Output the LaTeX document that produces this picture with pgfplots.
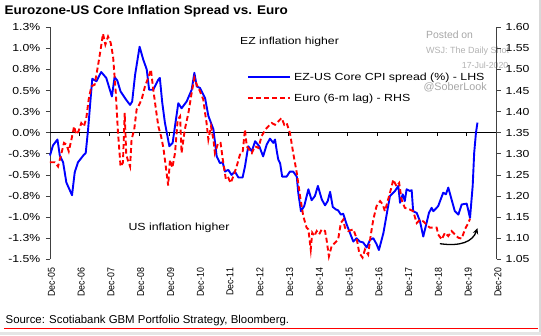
\documentclass[border=0pt]{standalone}
\usepackage{pgfplots}
\pgfplotsset{compat=1.18}
\usetikzlibrary{arrows.meta}
\usepackage{fontspec}
\setmainfont{Liberation Sans}[FakeStretch=1.2]
\newfontfamily\plainfont{Liberation Sans}
\newfontfamily\titlefont{Liberation Sans}[FakeStretch=1.08]
\newfontfamily\rotfont{Liberation Sans}[FakeStretch=0.88]
\begin{document}
\begin{tikzpicture}
\useasboundingbox (0,0) rectangle (541pt,335pt);
\fill[black!15] (538.5pt,0pt) rectangle (541pt,335pt);
\fill[black!10] (0pt,0pt) rectangle (541pt,3.5pt);
% watermark
\node[anchor=base west, inner sep=0pt, text=black!35, font=\plainfont\fontsize{10.4}{10.4}\selectfont] at (426pt,296pt) {Posted on};
\node[anchor=base west, inner sep=0pt, text=black!30, font=\plainfont\fontsize{9}{9}\selectfont] at (426pt,281.7pt) {WSJ: The Daily Shot};
\node[anchor=base west, inner sep=0pt, text=black!30, font=\plainfont\fontsize{8.8}{8.8}\selectfont] at (461.7pt,266.7pt) {17-Jul-2020};
\node[anchor=base west, inner sep=0pt, text=black!35, font=\plainfont\fontsize{10.8}{10.8}\selectfont] at (423.3pt,244.3pt) {@SoberLook};
\begin{axis}[
  at={(50pt,75.7pt)}, anchor=south west,
  scale only axis, width=446.5pt, height=232pt,
  xmin=0, xmax=15, ymin=-1.5, ymax=1.25,
  axis y line*=left, axis x line*=bottom,
  x axis line style={draw=none},
  xtick={0,1,2,3,4,5,6,7,8,9,10,11,12,13,14,15},
  xticklabels={Dec-05,Dec-06,Dec-07,Dec-08,Dec-09,Dec-10,Dec-11,Dec-12,Dec-13,Dec-14,Dec-15,Dec-16,Dec-17,Dec-18,Dec-19,Dec-20},
  x tick style={draw=none},
  major x tick style={draw=none},
  xmajorgrids=false,
  xticklabel style={yshift=-4.5pt, xshift=1.5pt, rotate=90, anchor=east, inner sep=0pt, font=\rotfont\fontsize{10}{10}\selectfont},
  ytick={-1.5,-1.25,-1,-0.75,-0.5,-0.25,0,0.25,0.5,0.75,1,1.25},
  yticklabels={-1.5\%,-1.3\%,-1.0\%,-0.8\%,-0.5\%,-0.3\%,0.0\%,0.3\%,0.5\%,0.8\%,1.0\%,1.3\%},
  yticklabel style={anchor=east, inner sep=0pt, xshift=-5.5pt, font=\fontsize{10.2}{10.2}\selectfont},
  tick align=outside, major tick length=4pt,
  y axis line style={black!75, line width=0.8pt},
  y tick style={black!75, line width=0.8pt},
  /pgf/number format/assume math mode=true,
  clip=false,
]
\draw[black, line width=0.8pt] (axis cs:0,0) -- (axis cs:15,0);
\pgfplotsinvokeforeach{1,...,14}{\draw[black, line width=0.8pt] (axis cs:#1,0) -- ([yshift=-3.5pt]axis cs:#1,0);}
\addplot[blue, line width=1.9pt, line join=round] coordinates {
(0.00,-0.27) (0.10,-0.15) (0.25,-0.08) (0.33,-0.27) (0.44,-0.35) (0.55,-0.59) (0.74,-0.74) (0.83,-0.47) (0.94,-0.35) (1.14,-0.26) (1.20,-0.24) (1.28,0.04) (1.37,0.43) (1.42,0.64) (1.56,0.61) (1.72,0.72) (1.89,0.65) (2.08,0.43) (2.17,0.66) (2.26,0.62) (2.37,0.49) (2.56,0.39) (2.69,0.33) (2.76,0.37) (2.86,0.69) (3.01,1.02) (3.13,0.87) (3.25,0.75) (3.33,0.51) (3.47,0.51) (3.64,0.63) (3.69,0.65) (3.77,0.36) (3.86,0.12) (4.01,-0.16) (4.12,-0.12) (4.20,0.08) (4.31,0.35) (4.42,0.29) (4.59,0.37) (4.76,0.51) (4.85,0.71) (4.93,0.55) (5.04,0.53) (5.21,0.41) (5.32,0.20) (5.49,0.04) (5.60,-0.28) (5.71,-0.36) (5.80,-0.35) (5.88,-0.46) (5.99,-0.44) (6.10,-0.50) (6.21,-0.46) (6.33,-0.53) (6.47,-0.53) (6.55,-0.40) (6.66,-0.16) (6.78,-0.22) (6.89,-0.10) (7.03,-0.16) (7.16,-0.28) (7.28,-0.14) (7.39,-0.07) (7.50,-0.12) (7.56,-0.08) (7.62,-0.22) (7.67,-0.32) (7.73,-0.36) (7.80,-0.52) (7.95,-0.52) (8.06,-0.46) (8.17,-0.46) (8.29,-0.52) (8.34,-0.71) (8.43,-0.93) (8.54,-0.87) (8.68,-0.67) (8.79,-0.80) (8.90,-0.75) (9.00,-0.63) (9.13,-0.79) (9.24,-0.86) (9.33,-0.81) (9.41,-0.70) (9.50,-0.88) (9.61,-0.91) (9.68,-0.92) (9.77,-0.97) (9.85,-0.96) (9.97,-1.09) (10.08,-1.19) (10.19,-1.29) (10.30,-1.25) (10.41,-1.29) (10.52,-1.30) (10.64,-1.36) (10.75,-1.27) (10.86,-1.25) (10.97,-1.32) (11.05,-1.39) (11.20,-1.19) (11.31,-0.97) (11.42,-0.75) (11.59,-0.69) (11.70,-0.63) (11.76,-0.83) (11.85,-0.73) (11.92,-0.81) (11.98,-0.67) (12.09,-0.69) (12.15,-0.68) (12.20,-0.93) (12.32,-0.95) (12.43,-1.05) (12.54,-1.23) (12.65,-1.07) (12.73,-0.95) (12.82,-0.89) (12.88,-0.93) (13.04,-0.87) (13.21,-0.71) (13.30,-0.73) (13.38,-0.65) (13.49,-0.79) (13.60,-0.93) (13.72,-0.97) (13.83,-0.85) (14.00,-0.84) (14.11,-1.01) (14.20,-0.63) (14.25,-0.24) (14.31,0.00) (14.36,0.12)
};
\end{axis}
\begin{axis}[
  at={(50pt,75.7pt)}, anchor=south west,
  scale only axis, width=446.5pt, height=232pt,
  xmin=0, xmax=15, ymin=1.05, ymax=1.60,
  axis y line*=right, axis x line=none,
  ytick={1.05,1.10,1.15,1.20,1.25,1.30,1.35,1.40,1.45,1.50,1.55,1.60},
  yticklabels={1.05,1.10,1.15,1.20,1.25,1.30,1.35,1.40,1.45,1.50,1.55,1.60},
  yticklabel style={anchor=west, inner sep=0pt, xshift=5pt, font=\fontsize{10.2}{10.2}\selectfont},
  tick align=outside, major tick length=4pt,
  y axis line style={black!75, line width=0.8pt},
  y tick style={black!75, line width=0.8pt},
  /pgf/number format/assume math mode=true,
  clip=false,
]
\addplot[red, line width=1.9pt, dash pattern=on 5pt off 3pt] coordinates {
(0.00,1.28) (0.16,1.28) (0.27,1.27) (0.38,1.30) (0.47,1.326) (0.55,1.322) (0.63,1.306) (0.72,1.334) (0.81,1.365) (0.88,1.346) (0.96,1.354) (1.05,1.373) (1.14,1.365) (1.22,1.385) (1.30,1.429) (1.39,1.46) (1.50,1.464) (1.61,1.508) (1.70,1.547) (1.78,1.585) (1.86,1.559) (1.95,1.578) (2.04,1.563) (2.12,1.53) (2.21,1.445) (2.28,1.355) (2.37,1.27) (2.45,1.279) (2.51,1.397) (2.56,1.30) (2.61,1.286) (2.69,1.27) (2.74,1.334) (2.83,1.358) (2.91,1.405) (2.97,1.413) (3.08,1.429) (3.19,1.46) (3.30,1.48) (3.39,1.50) (3.47,1.452) (3.56,1.405) (3.64,1.365) (3.73,1.342) (3.81,1.314) (3.89,1.27) (3.97,1.225) (4.03,1.286) (4.11,1.267) (4.20,1.302) (4.29,1.381) (4.37,1.389) (4.42,1.302) (4.53,1.358) (4.65,1.397) (4.76,1.445) (4.85,1.48) (4.93,1.464) (5.04,1.448) (5.15,1.429) (5.21,1.397) (5.26,1.373) (5.32,1.334) (5.41,1.365) (5.49,1.334) (5.54,1.302) (5.65,1.326) (5.73,1.326) (5.82,1.279) (5.91,1.239) (5.99,1.243) (6.07,1.231) (6.16,1.247) (6.27,1.27) (6.38,1.298) (6.47,1.302) (6.55,1.358) (6.61,1.318) (6.69,1.31) (6.78,1.302) (6.89,1.318) (7.00,1.314) (7.11,1.342) (7.24,1.358) (7.33,1.365) (7.45,1.373) (7.56,1.369) (7.67,1.377) (7.78,1.385) (7.87,1.369) (7.95,1.373) (8.06,1.35) (8.17,1.302) (8.29,1.255) (8.40,1.20) (8.51,1.152) (8.62,1.125) (8.68,1.121) (8.76,1.073) (8.81,1.113) (8.88,1.105) (8.96,1.117) (9.04,1.109) (9.13,1.121) (9.24,1.117) (9.29,1.097) (9.37,1.057) (9.46,1.081) (9.57,1.089) (9.68,1.097) (9.77,1.136) (9.85,1.144) (9.91,1.125) (10.02,1.117) (10.19,1.121) (10.30,1.10) (10.39,1.065) (10.50,1.054) (10.58,1.073) (10.69,1.061) (10.77,1.105) (10.86,1.144) (10.97,1.176) (11.09,1.188) (11.18,1.18) (11.25,1.164) (11.36,1.192) (11.48,1.223) (11.53,1.239) (11.64,1.223) (11.73,1.231) (11.81,1.192) (11.92,1.172) (12.09,1.168) (12.20,1.164) (12.32,1.136) (12.43,1.144) (12.54,1.14) (12.65,1.132) (12.76,1.125) (12.99,1.125) (13.04,1.109) (13.16,1.097) (13.27,1.113) (13.38,1.105) (13.49,1.117) (13.60,1.109) (13.72,1.101) (13.83,1.099) (13.94,1.121) (14.05,1.136) (14.11,1.146)
};
\draw[black, line width=1.3pt, -{Stealth[length=6pt,width=5.5pt]}] (axis cs:13.1,1.087) .. controls (axis cs:13.8,1.080) and (axis cs:14.2,1.092) .. (axis cs:14.36,1.124);
\end{axis}
% legend
\draw[blue, line width=1.9pt] (248pt,258.3pt) -- (290pt,258.3pt);
\node[anchor=base west, inner sep=0pt, font=\fontsize{10.3}{10.3}\selectfont] at (294pt,254.7pt) {EZ-US Core CPI spread (\%) - LHS};
\draw[red, line width=1.9pt, dash pattern=on 5pt off 3pt] (248pt,237pt) -- (290pt,237pt);
\node[anchor=base west, inner sep=0pt, font=\fontsize{10.3}{10.3}\selectfont] at (294pt,233.4pt) {Euro (6-m lag) - RHS};
% annotations
\node[anchor=base west, inner sep=0pt, font=\fontsize{10.2}{10.2}\selectfont] at (240pt,290pt) {EZ inflation higher};
\node[anchor=base west, inner sep=0pt, font=\fontsize{10.3}{10.3}\selectfont] at (128.3pt,104pt) {US inflation higher};
% title and source
\node[anchor=base west, inner sep=0pt, font=\titlefont\bfseries\fontsize{12.5}{12.5}\selectfont] at (4.5pt,320pt) {Eurozone-US Core Inflation Spread vs. Euro};
\node[anchor=base west, inner sep=0pt, font=\plainfont\fontsize{11.4}{11.4}\selectfont] at (5.5pt,12pt) {Source: Scotiabank GBM Portfolio Strategy, Bloomberg.};
\draw[red, line width=0.9pt] (4pt,7pt) -- (538pt,7pt);
\end{tikzpicture}
\end{document}
